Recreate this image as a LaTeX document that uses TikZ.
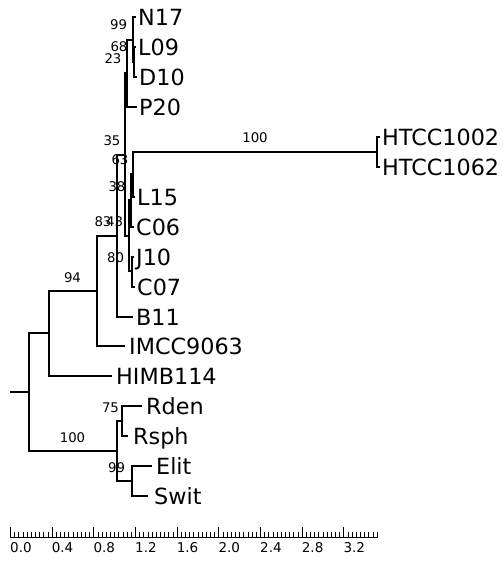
\documentclass[tikz,border=0pt]{standalone}
\usepackage{fontspec}
\setmainfont{DejaVu Sans}
\begin{document}
\begin{tikzpicture}[x=1pt,y=-1pt,
  br/.style={line width=1.8pt},
  leafname/.style={anchor=base west, inner sep=0pt, font=\fontsize{22.3}{25}\selectfont},
  supp/.style={anchor=center, inner sep=0pt, font=\fontsize{13.3}{15}\selectfont},
  scalelab/.style={anchor=north west, inner sep=0pt, font=\fontsize{13.5}{15}\selectfont},
  tick/.style={line width=1pt}]
\useasboundingbox (0,0) rectangle (503,562);
% internal nodes
\coordinate (R0) at (10,392);
\coordinate (Root) at (29,392);
\coordinate (AH) at (49,333);
\coordinate (A) at (97,291);
\coordinate (B) at (117,236);
\coordinate (Z) at (125,155);
\coordinate (Y) at (127,73);
\coordinate (X) at (133,40);
\coordinate (LD) at (134,62);
\coordinate (W) at (129,236);
\coordinate (N38) at (131,200);
\coordinate (N63) at (133,174);
\coordinate (HT) at (377,152);
\coordinate (JC) at (132,271);
\coordinate (O) at (117,451);
\coordinate (RR) at (122,421);
\coordinate (ES) at (132,481);
% leaves
\coordinate (N17) at (136,17);
\coordinate (L09) at (136,47);
\coordinate (D10) at (137,77);
\coordinate (P20) at (137,107);
\coordinate (H1002) at (380,137);
\coordinate (H1062) at (380,167);
\coordinate (L15) at (135,197);
\coordinate (C06) at (134,227);
\coordinate (J10) at (134,257);
\coordinate (C07) at (135,287);
\coordinate (B11) at (133,317);
\coordinate (IMCC) at (125,346);
\coordinate (HIMB) at (112,376);
\coordinate (Rden) at (142,406);
\coordinate (Rsph) at (128,436);
\coordinate (Elit) at (152,466);
\coordinate (Swit) at (148,496);
% branches
\draw[br] (R0) -- (Root);
\draw[br] (Root) |- (AH);
\draw[br] (Root) |- (O);
\draw[br] (AH) |- (A);
\draw[br] (AH) |- (HIMB);
\draw[br] (A) |- (B);
\draw[br] (A) |- (IMCC);
\draw[br] (B) |- (Z);
\draw[br] (B) |- (B11);
\draw[br] (Z) |- (Y);
\draw[br] (Z) |- (W);
\draw[br] (Y) |- (X);
\draw[br] (Y) |- (P20);
\draw[br] (X) |- (N17);
\draw[br] (X) |- (LD);
\draw[br] (LD) |- (L09);
\draw[br] (LD) |- (D10);
\draw[br] (W) |- (N38);
\draw[br] (W) |- (JC);
\draw[br] (N38) |- (N63);
\draw[br] (N38) |- (C06);
\draw[br] (N63) |- (HT);
\draw[br] (N63) |- (L15);
\draw[br] (HT) |- (H1002);
\draw[br] (HT) |- (H1062);
\draw[br] (JC) |- (J10);
\draw[br] (JC) |- (C07);
\draw[br] (O) |- (RR);
\draw[br] (O) |- (ES);
\draw[br] (RR) |- (Rden);
\draw[br] (RR) |- (Rsph);
\draw[br] (ES) |- (Elit);
\draw[br] (ES) |- (Swit);
% leaf names
\node[leafname] (tN17) at (138,25) {N17};
\node[leafname] (tL09) at (138,55) {L09};
\node[leafname] (tD10) at (139,85) {D10};
\node[leafname] (tP20) at (139,115) {P20};
\node[leafname] (tH1002) at (382,145) {HTCC1002};
\node[leafname] (tH1062) at (382,175) {HTCC1062};
\node[leafname] (tL15) at (137,205) {L15};
\node[leafname] (tC06) at (136,235) {C06};
\node[leafname] (tJ10) at (136,265) {J10};
\node[leafname] (tC07) at (137,295) {C07};
\node[leafname] (tB11) at (136,325) {B11};
\node[leafname] (tIMCC) at (129,354.5) {IMCC9063};
\node[leafname] (tHIMB) at (116,384.5) {HIMB114};
\node[leafname] (tRden) at (146,414.5) {Rden};
\node[leafname] (tRsph) at (133,444.5) {Rsph};
\node[leafname] (tElit) at (156,474.5) {Elit};
\node[leafname] (tSwit) at (154,504.5) {Swit};
% support values
\node[supp] (s1) at (118.7,25) {99};
\node[supp] (s2) at (119,46.5) {68};
\node[supp] (s3) at (113,58.5) {23};
\node[supp] (s4) at (112,140.5) {35};
\node[supp] (s5) at (120,160) {63};
\node[supp] (s6) at (117,186.7) {38};
\node[supp] (s7) at (103,221.7) {83};
\node[supp] (s8) at (114.7,221.7) {43};
\node[supp] (s9) at (115.7,257.5) {80};
\node[supp] (s10) at (72.5,277.5) {94};
\node[supp] (s11) at (255,138) {100};
\node[supp] (s12) at (110.5,408) {75};
\node[supp] (s13) at (72.5,438) {100};
\node[supp] (s14) at (116.7,468) {99};
% scale bar
\coordinate (S0) at (10.5,537.5);
\coordinate (S1) at (378.3,537.5);
\draw[line width=1.2pt] (S0) -- (S1);
\foreach \i in {0,...,88} {
  \pgfmathsetmacro{\xx}{10.5+\i*4.1667}
  \pgfmathtruncatemacro{\md}{mod(\i,10)}
  \ifnum\md=0
    \draw[tick] (\xx,537.5) -- (\xx,526.5);
  \else
    \draw[tick] (\xx,537.5) -- (\xx,531.5);
  \fi
}
\foreach \k/\lab in {0/0.0,1/0.4,2/0.8,3/1.2,4/1.6,5/2.0,6/2.4,7/2.8,8/3.2} {
  \pgfmathsetmacro{\xx}{10.5+\k*41.667}
  \node[scalelab] (lab\k) at (\xx-0.5,542.3) {\lab};
}
\end{tikzpicture}
\end{document}
